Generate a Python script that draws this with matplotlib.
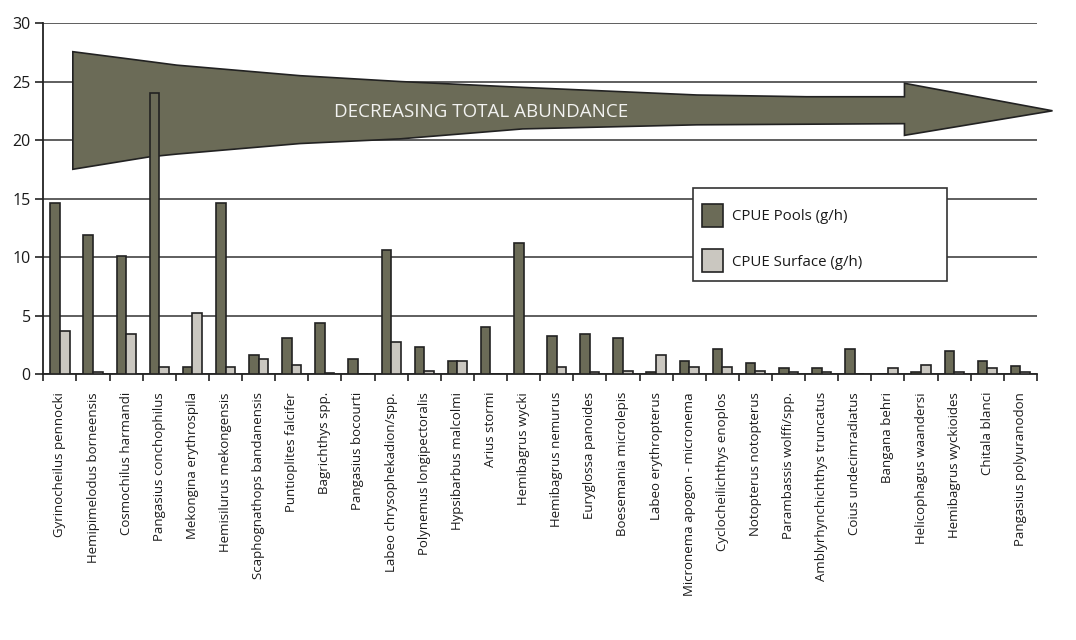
import matplotlib
matplotlib.use("Agg")
import matplotlib.pyplot as plt
from matplotlib.patches import Polygon, Rectangle
import numpy as np

plt.rcParams['font.family'] = ['Open Sans', 'DejaVu Sans']

species = [
    "Gyrinocheilus pennocki", "Hemipimelodus borneensis", "Cosmochilus harmandi",
    "Pangasius conchophilus", "Mekongina erythrospila", "Hemisilurus mekongensis",
    "Scaphognathops bandanensis", "Puntioplites falcifer", "Bagrichthys spp.",
    "Pangasius bocourti", "Labeo chrysophekadion/spp.", "Polynemus longipectoralis",
    "Hypsibarbus malcolmi", "Arius stormi", "Hemibagrus wycki", "Hemibagrus nemurus",
    "Euryglossa panoides", "Boesemania microlepis", "Labeo erythropterus",
    "Micronema apogon - micronema", "Cyclocheilichthys enoplos", "Notopterus notopterus",
    "Parambassis wolffi/spp.", "Amblyrhynchichthys truncatus", "Coius undecimradiatus",
    "Bangana behri", "Helicophagus waandersi", "Hemibagrus wyckioides", "Chitala blanci",
    "Pangasius polyuranodon",
]
cpue_pools = [14.6, 11.9, 10.1, 24.0, 0.6, 14.6, 1.6, 3.1, 4.4, 1.3,
              10.6, 2.3, 1.1, 4.0, 11.2, 3.25, 3.4, 3.05, 0.15, 1.1,
              2.1, 0.95, 0.5, 0.5, 2.1, 0.0, 0.15, 1.95, 1.1, 0.65]
cpue_surface = [3.7, 0.15, 3.4, 0.6, 5.2, 0.6, 1.3, 0.8, 0.12, 0.0,
                2.7, 0.3, 1.1, 0.0, 0.0, 0.6, 0.15, 0.3, 1.6, 0.6,
                0.6, 0.3, 0.15, 0.15, 0.0, 0.5, 0.8, 0.15, 0.5, 0.15]
y_ticks = [0, 5, 10, 15, 20, 25, 30]

# decorative arrow outline (data coords)
arrow_x = [0.39, 2.72, 3.53, 7.25, 10.27, 13.97, 19.23, 22.54, 25.5, 25.5, 29.97,
           25.5, 25.5, 19.23, 13.97, 10.27, 7.25, 3.53, 2.72, 0.39]
arrow_y = [27.55, 26.7, 26.4, 25.5, 25.0, 24.5, 23.85, 23.7, 23.7, 24.85, 22.5,
           20.4, 21.4, 21.3, 20.95, 20.1, 19.7, 18.8, 18.57, 17.5]

POOL_C = "#6b6b57"
SURF_C = "#cac7c0"
EDGE_C = "#222222"
TXT_C = "#1a1a1a"

fig = plt.figure(figsize=(10.76, 6.4), dpi=100)
ax = fig.add_axes([0.0403, 0.4156, 0.9234, 0.5484])

x = np.arange(len(species))
w = 0.29
ax.bar(x - w / 2, cpue_pools, width=w, color=POOL_C, edgecolor=EDGE_C,
       linewidth=1.2, label="CPUE Pools (g/h)", zorder=3)
ax.bar(x + w / 2, cpue_surface, width=w, color=SURF_C, edgecolor=EDGE_C,
       linewidth=1.2, label="CPUE Surface (g/h)", zorder=3)

ax.set_xlim(-0.5, len(species) - 0.5)
ax.set_ylim(0, 30)
ax.set_yticks(y_ticks)
ax.set_yticklabels([str(t) for t in y_ticks], fontsize=11.5, color=TXT_C)
ax.yaxis.grid(True, color="#333333", linewidth=1.1, zorder=0)
ax.set_axisbelow(True)

ax.set_xticks(x)
ax.set_xticklabels(species, rotation=90, fontsize=9.5, color=TXT_C)
ax.tick_params(axis='x', length=0, pad=13)
ax.set_xticks(np.arange(len(species) + 1) - 0.5, minor=True)
ax.tick_params(axis='x', which='minor', length=5, width=1.2, color="#222222")
ax.tick_params(axis='y', length=6, width=1.2, color="#222222", pad=3)

for s in ['top', 'right']:
    ax.spines[s].set_visible(False)
for s in ['left', 'bottom']:
    ax.spines[s].set_color("#222222")
    ax.spines[s].set_linewidth(1.3)

poly = Polygon(list(zip(arrow_x, arrow_y)), closed=True, facecolor=POOL_C,
               edgecolor=EDGE_C, linewidth=1.2, zorder=2, clip_on=False)
ax.add_patch(poly)
ax.text(12.71, 22.4, "DECREASING TOTAL ABUNDANCE", color="#f2f2f0", fontsize=13.5,
        ha='center', va='center', zorder=4)

# legend frame
frame = Rectangle((692.7 / 1076, 1 - 281 / 640), 254 / 1076, 92.7 / 640,
                  transform=fig.transFigure, facecolor="white", edgecolor="#333333",
                  linewidth=1.2, zorder=4)
fig.patches.append(frame)
handles, labels = ax.get_legend_handles_labels()
leg = fig.legend(handles, labels, loc='upper left',
                 bbox_to_anchor=(701.7 / 1076, 1 - 204 / 640),
                 bbox_transform=fig.transFigure, fontsize=10.8, frameon=False,
                 borderpad=0, labelspacing=1.5, handlelength=1.4, handleheight=1.98,
                 handletextpad=0.6, borderaxespad=0)
leg.set_zorder(5)
for t in leg.get_texts():
    t.set_color(TXT_C)

fig.savefig("out.png", dpi=100, facecolor="white")
